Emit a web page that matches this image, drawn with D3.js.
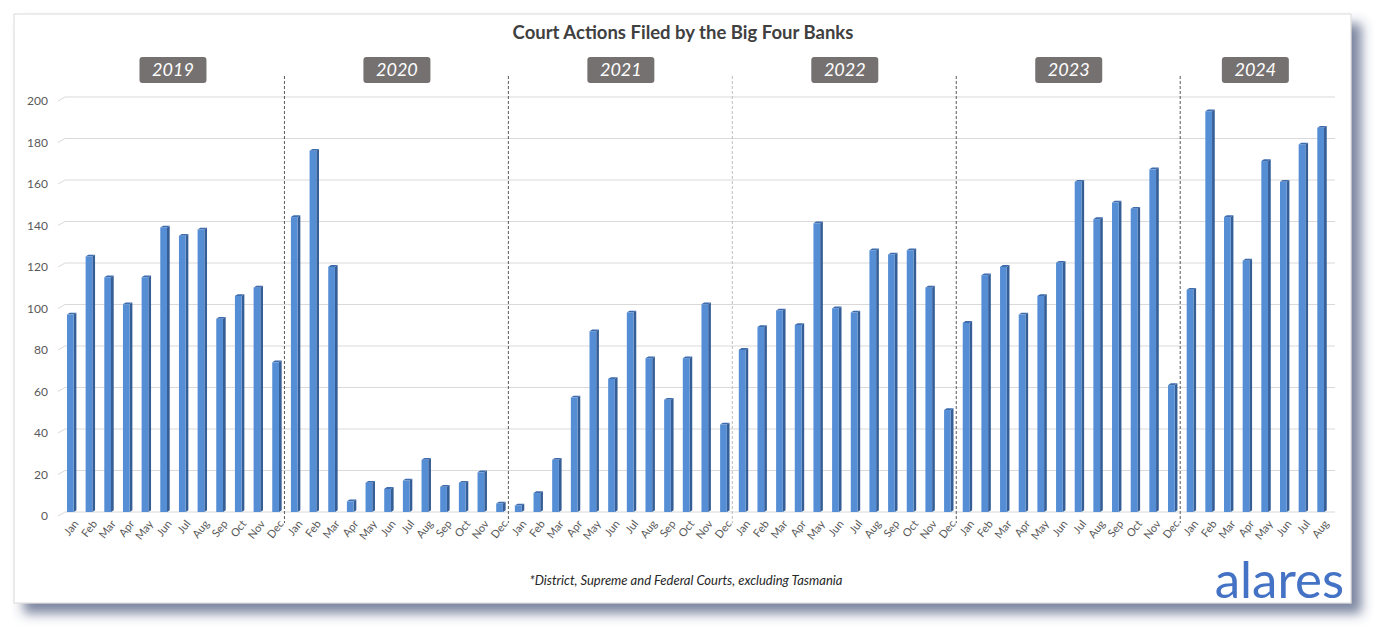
<!DOCTYPE html>
<html>
<head>
<meta charset="utf-8">
<script src="https://cdn.jsdelivr.net/npm/d3@7"></script>
<style>
  body { margin: 0; background: #fff; }
  svg { display: block; font-family: Lato, "Open Sans", sans-serif; }
</style>
</head>
<body>
<div id="plot_div"></div>
<script>
const width  = 1379;
const height = 633;

// data
const years  = ["2019", "2020", "2021", "2022", "2023", "2024"];
const months = ["Jan","Feb","Mar","Apr","May","Jun","Jul","Aug","Sep","Oct","Nov","Dec"];
const v2019 = [96, 124, 114, 101, 114, 138, 134, 137, 94, 105, 109, 73];
const v2020 = [143, 175, 119, 6, 15, 12, 16, 26, 13, 15, 20, 5];
const v2021 = [4, 10, 26, 56, 88, 65, 97, 75, 55, 75, 101, 43];
const v2022 = [79, 90, 98, 91, 140, 99, 97, 127, 125, 127, 109, 50];
const v2023 = [92, 115, 119, 96, 105, 121, 160, 142, 150, 147, 166, 62];
const v2024 = [108, 194, 143, 122, 170, 160, 178, 186];
const yTicks = [0, 20, 40, 60, 80, 100, 120, 140, 160, 180, 200];

const title    = "Court Actions Filed by the Big Four Banks";
const footnote = "*District, Supreme and Federal Courts, excluding Tasmania";
const brand    = "alares";

const series = [v2019, v2020, v2021, v2022, v2023, v2024];
const rows = [];
years.forEach((yr, yi) => {
    series[yi].forEach((v, mi) => {
        rows.push({key: yr + "-" + mi, year: yr, month: months[mi], value: v});
    });
});

var plot = {left: 61, right: 1330, top: 97, bottom: 512};
const depth = {dx: 2.7, dy: 1.8};   // fake 3d of the excel columns

const svg = d3.create("svg")
      .attr("width", width)
      .attr("height", height)
      .attr("viewBox", [0, 0, width, height]);

// card shadow
const defs = svg.append("defs");
defs.append("filter")
    .attr("id", "shadow")
    .attr("x", "-5%").attr("y", "-5%")
    .attr("width", "112%").attr("height", "115%")
    .append("feDropShadow")
    .attr("dx", 10).attr("dy", 10)
    .attr("stdDeviation", 6)
    .attr("flood-color", "#34466e")
    .attr("flood-opacity", 0.65);

svg.append("rect")
    .attr("x", 14).attr("y", 14)
    .attr("width", 1337).attr("height", 589)
    .attr("fill", "#fff")
    .attr("stroke", "#d9d9d9")
    .attr("filter", "url(#shadow)");

const x = d3.scaleBand()
      .domain(rows.map(d => d.key))
      .range([plot.left, plot.right])
      .paddingInner(0.64)
      .paddingOuter(0.32);

const y = d3.scaleLinear()
      .domain([0, 200])
      .range([plot.bottom, plot.top]);

// gridlines (back wall + little floor stub)
const grid = svg.append("g");
grid.selectAll("line.grid")
    .data(yTicks)
    .join("line")
    .attr("class", "grid")
    .attr("x1", plot.left + 4).attr("x2", plot.right + 5)
    .attr("y1", d => y(d)).attr("y2", d => y(d))
    .attr("stroke", "#d9d9d9")
    .attr("stroke-width", 1.2);
grid.selectAll("line.stub")
    .data(yTicks)
    .join("line")
    .attr("class", "stub")
    .attr("x1", plot.left - 3).attr("x2", plot.left + 4)
    .attr("y1", d => y(d) + 4).attr("y2", d => y(d))
    .attr("stroke", "#d9d9d9");

// y axis
svg.append("g")
    .attr("transform", `translate(${plot.left - 10},4)`)
    .call(d3.axisLeft(y).tickValues(yTicks).tickSize(0))
    .call(g => g.select(".domain").remove())
    .call(g => g.selectAll("text")
          .attr("fill", "#595959")
          .style("font-size", "12px")
          .style("font-family", "Lato, sans-serif"));

// x axis (month names)
svg.append("g")
    .attr("transform", `translate(${depth.dx / 2 + 2},${plot.bottom + 5})`)
    .call(d3.axisBottom(x).tickSize(0).tickFormat(k => rows.find(r => r.key === k).month))
    .call(g => g.select(".domain").remove())
    .call(g => g.selectAll("text")
          .attr("fill", "#595959")
          .style("font-size", "11px")
          .style("font-family", "Lato, sans-serif")
          .attr("text-anchor", "end")
          .attr("dx", "-0.2em")
          .attr("dy", "0.5em")
          .attr("transform", "rotate(-52)"));

// year separators
const yearStart = years.map(yr => x(yr + "-0"));
const step = x.step();
const sepX = yearStart.slice(1).map(s => s - step * x.paddingInner() / 2 - 0.5);
svg.append("g")
    .selectAll("line")
    .data(sepX)
    .join("line")
    .attr("x1", d => d).attr("x2", d => d)
    .attr("y1", 76).attr("y2", 523)
    .attr("stroke", (d, i) => i === 2 ? "#bfbfbf" : "#595959")
    .attr("stroke-width", 1)
    .attr("stroke-dasharray", "3,2");

// bars: visible top (cap) sits on the value
const bars = svg.append("g");
const bw = x.bandwidth();
const front = d => y(d.value) + depth.dy;
bars.selectAll("polygon.side")
    .data(rows)
    .join("polygon")
    .attr("class", "side")
    .attr("fill", "#355d96")
    .attr("points", d => {
        const x0 = x(d.key) + bw, y0 = front(d);
        return [[x0, y0], [x0 + depth.dx, y0 - depth.dy],
                [x0 + depth.dx, plot.bottom - depth.dy], [x0, plot.bottom]].join(" ");
    });
bars.selectAll("polygon.top")
    .data(rows)
    .join("polygon")
    .attr("class", "top")
    .attr("fill", "#3e6cad")
    .attr("points", d => {
        const x0 = x(d.key), y0 = front(d);
        return [[x0, y0], [x0 + depth.dx, y0 - depth.dy],
                [x0 + bw + depth.dx, y0 - depth.dy], [x0 + bw, y0]].join(" ");
    });
bars.selectAll("rect")
    .data(rows)
    .join("rect")
    .attr("x", d => x(d.key))
    .attr("y", d => front(d))
    .attr("width", bw)
    .attr("height", d => plot.bottom - front(d))
    .attr("fill", "#558ed5");

// year badges
const badges = svg.append("g")
    .selectAll("g")
    .data(years)
    .join("g")
    .attr("transform", (yr, i) => {
        const n = series[i].length;
        const cx = (x(yr + "-0") + x(yr + "-" + (n - 1)) + bw) / 2;
        return `translate(${cx},70)`;
    });
badges.append("rect")
    .attr("x", -33.5).attr("y", -13)
    .attr("width", 67).attr("height", 26)
    .attr("rx", 3)
    .attr("fill", "#767171");
badges.append("text")
    .attr("text-anchor", "middle")
    .attr("dy", "0.36em")
    .attr("fill", "#fff")
    .style("font-size", "18px")
    .style("font-style", "italic")
    .text(d => d);

// title
svg.append("text")
    .attr("x", 683).attr("y", 39)
    .attr("text-anchor", "middle")
    .attr("fill", "#404040")
    .style("font-size", "18.5px")
    .style("font-weight", "bold")
    .text(title);

// footnote
svg.append("text")
    .attr("x", 686).attr("y", 585)
    .attr("text-anchor", "middle")
    .attr("fill", "#262626")
    .style("font-size", "13px")
    .style("font-style", "italic")
    .text(footnote);

// logo
svg.append("text")
    .attr("x", 1344).attr("y", 598)
    .attr("text-anchor", "end")
    .attr("fill", "#4472c4")
    .style("font-size", "51px")
    .text(brand);

d3.select("#plot_div").append(() => svg.node());
</script>
</body>
</html>
